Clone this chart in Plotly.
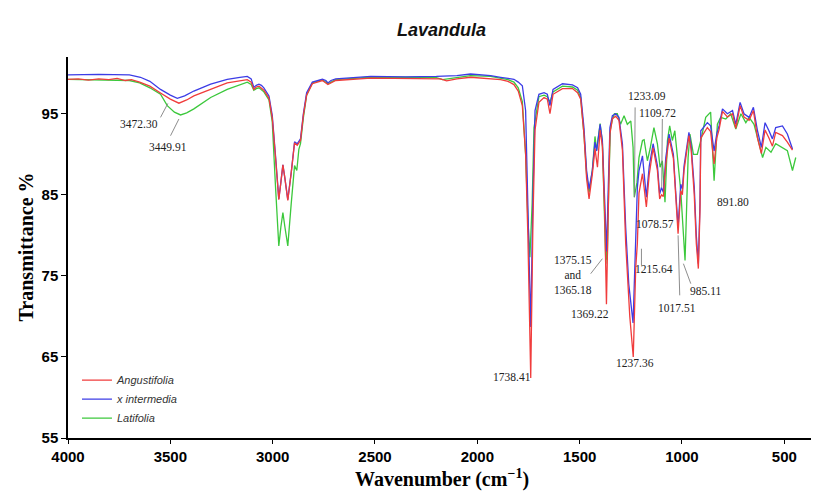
import plotly.graph_objects as go

# ---------------- data ----------------
series_names = ["Angustifolia", "x intermedia", "Latifolia"]

wn_angustifolia = [4000, 3950, 3900, 3850, 3800, 3760, 3720, 3690, 3650, 3600, 3548, 3500, 3458, 3420, 3385,
                   3303, 3222, 3124, 3105, 3092, 3080, 3067, 3055, 3043, 3018, 3002, 2986, 2970, 2960, 2950,
                   2940, 2926, 2909, 2893, 2880, 2864, 2850, 2834, 2806, 2757, 2730, 2692, 2521, 2300, 2180,
                   2150, 2100, 2033, 1935, 1886, 1850, 1821, 1800, 1780, 1764, 1753, 1739, 1728, 1718, 1699,
                   1674, 1658, 1645, 1630, 1584, 1535, 1510, 1495, 1479, 1466, 1454, 1438, 1425, 1413, 1400,
                   1389, 1378, 1369, 1361, 1352, 1340, 1324, 1308, 1291, 1275, 1255, 1238, 1226, 1218, 1210,
                   1193, 1174, 1160, 1141, 1120, 1109, 1100, 1091, 1079, 1063, 1042, 1031, 1019, 1006, 998,
                   990, 975, 966, 955, 940, 930, 920, 912, 908, 876, 860, 843, 830, 819, 802,
                   778, 753, 737, 716, 697, 672, 651, 631, 612, 594, 575, 558, 542, 509, 485, 460]
t_angustifolia = [99.25, 99.3, 99.15, 99.3, 99.2, 99.35, 99.1, 99.2, 98.9, 98.4, 97.55, 96.8, 96.3, 96.7, 97.2,
                  98.0, 98.8, 99.2, 98.9, 98.0, 98.3, 98.4, 98.2, 97.9, 96.9, 94.5, 89.6, 84.4, 86.5, 88.7,
                  87.0, 84.3, 87.8, 91.4, 91.1, 91.7, 94.8, 97.3, 98.7, 99.1, 98.6, 99.1, 99.4, 99.35, 99.3,
                  99.05, 99.3, 99.5, 99.3, 99.2, 99.0, 98.6, 97.8, 96.0, 90.0, 80.0, 62.4, 82.0, 93.0, 96.4,
                  97.0, 96.8, 95.0, 97.4, 98.1, 98.1, 97.6, 96.8, 92.5, 87.0, 84.5, 87.5, 90.7, 88.4, 93.0,
                  91.0, 83.0, 71.5, 82.0, 92.5, 94.4, 94.7, 94.2, 90.5, 79.0, 70.0, 65.0, 76.0, 79.0, 85.2,
                  87.6, 83.5, 87.5, 90.8, 88.0, 84.5, 85.0, 84.8, 88.8, 92.0, 89.5, 84.5, 80.2, 85.5, 85.0,
                  88.0, 91.0, 92.3, 90.5, 85.0, 79.0, 75.9, 83.0, 92.0, 93.3, 92.8, 88.8, 92.0, 93.0, 95.3,
                  94.6, 95.0, 93.2, 96.0, 94.6, 94.2, 95.4, 92.0, 90.1, 93.0, 92.0, 91.0, 92.7, 92.3, 91.5, 90.5]

wn_intermedia = [4000, 3850, 3700, 3646, 3600, 3548, 3500, 3466, 3430, 3385, 3303, 3222, 3160, 3124, 3105,
                 3092, 3080, 3067, 3055, 3043, 3018, 3002, 2986, 2970, 2960, 2950, 2940, 2926, 2909, 2893,
                 2880, 2864, 2850, 2834, 2806, 2757, 2740, 2730, 2715, 2692, 2521, 2350, 2200, 2100, 2033,
                 1980, 1935, 1886, 1850, 1821, 1800, 1780, 1764, 1753, 1739, 1728, 1718, 1699, 1674, 1658,
                 1645, 1630, 1584, 1535, 1510, 1495, 1479, 1466, 1454, 1438, 1425, 1417, 1400, 1389, 1378,
                 1368, 1361, 1352, 1340, 1324, 1308, 1291, 1275, 1260, 1239, 1226, 1218, 1210, 1193, 1174,
                 1160, 1141, 1120, 1109, 1100, 1091, 1079, 1063, 1042, 1031, 1019, 1006, 998, 990, 975,
                 966, 955, 940, 930, 920, 912, 908, 876, 860, 843, 830, 819, 802, 778, 753,
                 737, 716, 697, 672, 651, 631, 612, 594, 575, 558, 542, 509, 485, 460]
t_intermedia = [99.8, 99.85, 99.8, 99.5, 99.0, 98.0, 97.3, 96.9, 97.2, 97.8, 98.65, 99.25, 99.5, 99.6, 99.3,
                98.25, 98.5, 98.65, 98.5, 98.2, 97.2, 94.8, 89.8, 84.5, 86.5, 88.7, 87.0, 84.4, 87.8, 91.55,
                91.3, 91.9, 95.0, 97.6, 98.9, 99.25, 99.1, 98.8, 99.1, 99.3, 99.6, 99.55, 99.6, 99.7, 99.9,
                99.8, 99.7, 99.5, 99.4, 99.25, 98.9, 98.45, 95.4, 85.1, 68.7, 85.1, 95.4, 97.4, 97.6, 97.4,
                96.0, 98.0, 98.7, 98.55, 98.2, 97.4, 93.3, 88.0, 85.7, 88.0, 91.5, 90.4, 93.7, 91.7, 85.1,
                78.0, 85.1, 93.3, 94.75, 95.0, 94.55, 91.3, 81.0, 74.0, 69.2, 81.4, 85.9, 88.0, 89.8, 84.7,
                88.5, 91.3, 88.6, 85.1, 85.9, 85.3, 89.6, 92.5, 90.0, 85.5, 81.0, 86.3, 85.7, 88.5, 91.5,
                92.7, 91.0, 86.0, 80.0, 76.5, 84.0, 92.9, 93.9, 93.5, 90.4, 92.5, 93.5, 95.6, 95.0, 95.4,
                93.7, 96.4, 95.0, 94.55, 95.8, 92.9, 90.85, 93.9, 92.9, 91.9, 93.3, 93.5, 92.5, 90.65]

wn_latifolia = [4000, 3900, 3800, 3700, 3650, 3600, 3548, 3515, 3480, 3450, 3420, 3385, 3303, 3222, 3124,
                3105, 3092, 3080, 3067, 3043, 3018, 3002, 2986, 2970, 2960, 2950, 2940, 2926, 2909, 2893,
                2882, 2872, 2864, 2850, 2834, 2806, 2757, 2730, 2692, 2521, 2300, 2200, 2170, 2100, 2033,
                1935, 1886, 1850, 1821, 1800, 1780, 1764, 1753, 1743, 1732, 1723, 1699, 1674, 1658, 1645,
                1630, 1584, 1535, 1510, 1495, 1479, 1466, 1454, 1438, 1425, 1417, 1400, 1389, 1378, 1372,
                1368, 1365, 1358, 1350, 1340, 1330, 1316, 1300, 1283, 1267, 1250, 1239, 1233, 1220, 1210,
                1193, 1185, 1169, 1156, 1137, 1120, 1107, 1096, 1083, 1071, 1060, 1047, 1035, 1022, 1006,
                985, 970, 961, 944, 925, 908, 884, 860, 843, 827, 811, 786, 762, 737, 712,
                688, 672, 648, 623, 606, 590, 565, 542, 509, 485, 460, 444]
t_latifolia = [99.25, 99.2, 99.2, 99.1, 98.8, 98.2, 97.4, 96.0, 95.2, 94.85, 95.1, 95.6, 97.0, 98.0, 98.9,
               98.6, 97.9, 98.1, 98.2, 97.7, 96.7, 94.0, 86.0, 78.7, 81.0, 82.8, 81.0, 78.7, 84.0, 88.6,
               88.0, 90.6, 91.3, 94.5, 97.3, 98.8, 99.2, 98.7, 99.2, 99.5, 99.5, 99.45, 99.2, 99.5, 99.7,
               99.6, 99.4, 99.2, 98.9, 98.2, 96.5, 90.0, 82.0, 77.3, 84.0, 93.3, 97.1, 97.3, 97.1, 96.4,
               97.7, 98.4, 98.3, 97.9, 97.0, 92.5, 87.5, 85.3, 88.0, 92.2, 90.5, 93.8, 91.5, 82.0, 76.5,
               79.0, 77.0, 86.0, 93.0, 94.3, 95.0, 95.0, 93.7, 94.75, 93.7, 94.1, 90.85, 84.7, 86.5, 89.6,
               91.7, 91.8, 89.2, 90.65, 93.3, 91.3, 88.4, 89.2, 84.1, 91.7, 93.5, 91.7, 92.9, 89.6, 85.5,
               76.9, 89.6, 92.5, 90.0, 90.0, 91.7, 94.55, 95.2, 86.75, 93.7, 94.55, 94.35, 95.0, 93.1, 95.0,
               93.9, 94.55, 93.7, 91.3, 89.6, 90.85, 90.25, 91.3, 90.85, 90.45, 88.0, 89.6]

x_ticks = [4000, 3500, 3000, 2500, 2000, 1500, 1000, 500]
y_ticks = [55, 65, 75, 85, 95]

# peak labels: text, label position (wavenumber, %T)
peak_labels = ["3472.30", "3449.91", "1738.41", "1375.15<br>and<br>1365.18", "1369.22", "1237.36",
               "1215.64", "985.11", "1017.51", "1078.57", "1109.72", "1233.09", "891.80"]
label_wn = [3651, 3512, 1832, 1531, 1449, 1231, 1137, 884, 1026, 1133, 1120, 1170, 749]
label_t = [93.73, 90.85, 62.5, 75.15, 70.35, 64.2, 75.8, 73.13, 71.04, 81.34, 95.04, 97.2, 84.08]
# leader lines: (wn0, t0, wn1, t1)
leaders = [(3548, 94.55, 3512, 96.27), (3499, 92.29, 3458, 94.35), (1446, 75.27, 1389, 77.12),
           (1198, 78.35, 1198, 76.3), (993, 76.5, 957, 74.04), (1019, 80.0, 1011, 72.6),
           (1096, 94.35, 1099, 85.93), (1229, 95.78, 1232, 84.7)]

colors = {"Angustifolia": "#f03c3c", "x intermedia": "#3c3ce6", "Latifolia": "#3cc83c"}

# ---------------- figure ----------------
fig = go.Figure()
data_map = {
    "Latifolia": (wn_latifolia, t_latifolia, 3),
    "x intermedia": (wn_intermedia, t_intermedia, 2),
    "Angustifolia": (wn_angustifolia, t_angustifolia, 1),
}
for name in ["Latifolia", "x intermedia", "Angustifolia"]:
    xs, ys, rank = data_map[name]
    fig.add_trace(go.Scatter(x=xs, y=ys, mode="lines", name=name, legendrank=rank,
                             line=dict(color=colors[name], width=1.3)))

for txt, xw, yt in zip(peak_labels, label_wn, label_t):
    fig.add_annotation(x=xw, y=yt, xref="x", yref="y", text=txt, showarrow=False,
                       font=dict(family="Liberation Serif", size=11.5, color="#222222"))
for (a, b, c, d) in leaders:
    fig.add_shape(type="line", x0=a, y0=b, x1=c, y1=d, xref="x", yref="y",
                  line=dict(color="#808080", width=0.9))

# title and axis titles as paper annotations
fig.add_annotation(text="<b><i>Lavandula</i></b>", xref="paper", yref="paper",
                   x=0.5, y=1.0 + 27 / 381, xanchor="center", yanchor="middle", showarrow=False,
                   font=dict(family="Liberation Sans", size=18, color="#111111"))
fig.add_annotation(text="<b>Wavenumber (cm<sup>−1</sup>)</b>", xref="paper", yref="paper",
                   x=0.5, y=-40 / 381, xanchor="center", yanchor="middle", showarrow=False,
                   font=dict(family="Liberation Serif", size=20, color="black"))
fig.add_annotation(text="<b>Transmittance %</b>", xref="paper", yref="paper",
                   x=-43 / 747, y=0.5, xanchor="center", yanchor="middle", showarrow=False,
                   textangle=-90,
                   font=dict(family="Liberation Serif", size=20, color="black"))

# the page body has an 8px margin, so the figure is sized to fill the rest of the window
fig.update_layout(
    width=811, height=483,
    margin=dict(l=60, r=4, t=49, b=53, autoexpand=False),
    paper_bgcolor="white", plot_bgcolor="white",
    legend=dict(x=0.012, y=0.19, xanchor="left", yanchor="top", bgcolor="rgba(0,0,0,0)",
                font=dict(family="Liberation Sans", size=11, color="#333333", style="italic"),
                itemwidth=30, tracegroupgap=0),
    xaxis=dict(range=[4000, 350], tickvals=x_ticks, ticktext=[str(v) for v in x_ticks],
               automargin=False,
               showgrid=False, zeroline=False, showline=True, linecolor="black", linewidth=1.5,
               ticks="outside", ticklen=4, tickwidth=1.2, tickcolor="black",
               tickfont=dict(family="Liberation Sans", size=15, color="black", weight="bold")),
    yaxis=dict(range=[55, 102], tickvals=y_ticks, ticktext=[str(v) for v in y_ticks],
               automargin=False,
               showgrid=False, zeroline=False, showline=True, linecolor="black", linewidth=1.5,
               ticks="outside", ticklen=5, tickwidth=1.2, tickcolor="black",
               tickfont=dict(family="Liberation Sans", size=15, color="black", weight="bold")),
)

fig.write_html("out.html")
